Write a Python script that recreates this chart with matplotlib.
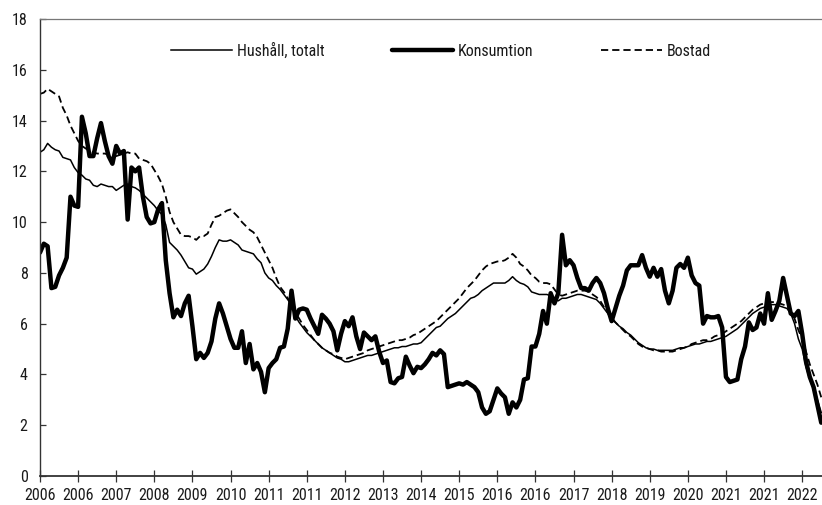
import matplotlib
matplotlib.use('Agg')
import matplotlib.pyplot as plt
import pandas as pd

plt.rcParams['font.family'] = ['Roboto Condensed', 'DejaVu Sans']

# Månadsdata jan 2006 - feb 2023, årlig procentuell förändring
manader = pd.date_range('2006-01-01', periods=206, freq='MS')

hushall_totalt = [
    12.75, 12.85, 13.1, 12.95, 12.85, 12.8, 12.55, 12.5, 12.45, 12.15, 11.95, 11.85,
    11.7, 11.65, 11.45, 11.4, 11.5, 11.45, 11.4, 11.4, 11.25, 11.35, 11.45, 11.5,
    11.4, 11.35, 11.25, 11.1, 10.95, 10.8, 10.65, 10.45, 10.3, 9.9, 9.2, 9.05,
    8.9, 8.7, 8.45, 8.2, 8.15, 7.95, 8.05, 8.15, 8.35, 8.65, 9.0, 9.3,
    9.25, 9.25, 9.3, 9.2, 9.1, 8.9, 8.85, 8.8, 8.75, 8.55, 8.4, 8.0,
    7.8, 7.7, 7.5, 7.35, 7.15, 6.95, 6.75, 6.3, 6.05, 5.85, 5.65, 5.5,
    5.35, 5.2, 5.05, 4.95, 4.85, 4.75, 4.65, 4.6, 4.5, 4.5, 4.55, 4.6,
    4.65, 4.7, 4.75, 4.75, 4.8, 4.85, 4.9, 4.95, 5.0, 5.05, 5.05, 5.1,
    5.1, 5.15, 5.2, 5.2, 5.25, 5.4, 5.55, 5.7, 5.85, 5.9, 6.05, 6.2,
    6.3, 6.4, 6.55, 6.7, 6.85, 7.0, 7.05, 7.15, 7.3, 7.4, 7.5, 7.6,
    7.6, 7.6, 7.6, 7.7, 7.85, 7.7, 7.6, 7.55, 7.45, 7.25, 7.2, 7.15,
    7.15, 7.15, 7.1, 6.95, 6.9, 7.0, 7.0, 7.05, 7.1, 7.15, 7.15, 7.1,
    7.05, 7.0, 6.95, 6.8, 6.6, 6.4, 6.15, 6.05, 5.9, 5.8, 5.65, 5.55,
    5.4, 5.25, 5.15, 5.05, 5.0, 5.0, 4.95, 4.95, 4.95, 4.95, 4.95, 5.0,
    5.05, 5.05, 5.1, 5.15, 5.2, 5.2, 5.25, 5.3, 5.3, 5.35, 5.4, 5.45,
    5.5, 5.6, 5.7, 5.8, 5.95, 6.1, 6.25, 6.4, 6.5, 6.6, 6.65, 6.7,
    6.75, 6.75, 6.7, 6.65, 6.6, 6.4, 6.0, 5.4, 5.0, 4.3, 3.8, 3.4,
    3.0, 2.5,
]

konsumtion = [
    8.8, 9.15, 9.05, 7.4, 7.45, 7.9, 8.2, 8.6, 11.0, 10.65, 10.6, 14.15,
    13.5, 12.6, 12.6, 13.3, 13.9, 13.2, 12.6, 12.3, 13.0, 12.7, 12.8, 10.1,
    12.15, 12.0, 12.15, 11.0, 10.2, 9.95, 10.0, 10.5, 10.75, 8.5, 7.2, 6.25,
    6.55, 6.3, 6.8, 7.1, 5.9, 4.6, 4.85, 4.65, 4.85, 5.3, 6.2, 6.8,
    6.4, 5.9, 5.4, 5.05, 5.05, 5.7, 4.45, 5.2, 4.2, 4.45, 4.1, 3.3,
    4.25, 4.45, 4.6, 5.05, 5.1, 5.8, 7.3, 6.2, 6.55, 6.6, 6.55, 6.2,
    5.9, 5.6, 6.35, 6.2, 6.0, 5.7, 4.95, 5.6, 6.1, 5.9, 6.25, 5.5,
    5.0, 5.65, 5.5, 5.35, 5.5, 4.9, 4.45, 4.55, 3.7, 3.65, 3.85, 3.9,
    4.7, 4.35, 4.05, 4.3, 4.25, 4.4, 4.6, 4.85, 4.75, 4.95, 4.8, 3.5,
    3.55, 3.6, 3.65, 3.6, 3.7, 3.6, 3.5, 3.3, 2.7, 2.45, 2.55, 3.0,
    3.45, 3.25, 3.1, 2.45, 2.9, 2.7, 3.0, 3.8, 3.85, 5.1, 5.1, 5.6,
    6.5, 6.0, 7.2, 6.8, 7.2, 9.5, 8.3, 8.5, 8.3, 7.8, 7.4, 7.4,
    7.3, 7.6, 7.8, 7.6, 7.2, 6.6, 6.1, 6.6, 7.1, 7.5, 8.1, 8.3,
    8.3, 8.3, 8.7, 8.2, 7.85, 8.2, 7.85, 8.15, 7.3, 6.8, 7.3, 8.2,
    8.35, 8.2, 8.6, 7.9, 7.6, 7.5, 6.0, 6.3, 6.25, 6.25, 6.3, 5.85,
    3.9, 3.7, 3.75, 3.8, 4.6, 5.1, 6.05, 5.75, 5.85, 6.4, 6.0, 7.2,
    6.15, 6.5, 6.9, 7.8, 7.1, 6.4, 6.3, 6.5, 5.6, 4.5, 3.9, 3.5,
    2.8, 2.1,
]

bostad = [
    15.05, 15.1, 15.25, 15.15, 15.05, 14.95, 14.5, 14.2, 13.8, 13.5, 13.2, 13.0,
    12.9, 12.8, 12.75, 12.7, 12.7, 12.7, 12.65, 12.55, 12.6, 12.65, 12.7, 12.75,
    12.7, 12.7, 12.5, 12.45, 12.4, 12.3, 12.05, 11.8, 11.5, 11.0, 10.4, 10.0,
    9.75, 9.5, 9.45, 9.45, 9.4, 9.3, 9.45, 9.45, 9.55, 9.9, 10.2, 10.25,
    10.35, 10.45, 10.5, 10.35, 10.2, 10.0, 9.85, 9.7, 9.6, 9.4, 9.1, 8.8,
    8.5, 8.2, 7.8, 7.45, 7.25, 7.0, 6.75, 6.45, 6.2, 5.95, 5.75, 5.55,
    5.35, 5.2, 5.05, 4.95, 4.85, 4.8, 4.7, 4.65, 4.6, 4.65, 4.7, 4.75,
    4.8, 4.85, 4.95, 5.0, 5.05, 5.1, 5.15, 5.2, 5.25, 5.3, 5.35, 5.35,
    5.4, 5.45, 5.55, 5.6, 5.7, 5.8, 5.9, 6.0, 6.1, 6.25, 6.4, 6.55,
    6.7, 6.85, 7.0, 7.2, 7.4, 7.55, 7.7, 7.9, 8.1, 8.25, 8.35, 8.4,
    8.45, 8.45, 8.5, 8.6, 8.75, 8.6, 8.35, 8.25, 8.1, 7.9, 7.8, 7.65,
    7.6, 7.6, 7.55, 7.35, 7.15, 7.1, 7.15, 7.2, 7.25, 7.3, 7.3, 7.3,
    7.25, 7.15, 7.05, 6.9, 6.65, 6.45, 6.25, 6.05, 5.9, 5.75, 5.6, 5.5,
    5.35, 5.2, 5.1, 5.05, 5.0, 4.95, 4.95, 4.9, 4.9, 4.9, 4.9, 4.95,
    5.0, 5.05, 5.1, 5.2, 5.25, 5.3, 5.35, 5.35, 5.4, 5.5, 5.55, 5.6,
    5.7, 5.8, 5.9, 6.0, 6.1, 6.25, 6.4, 6.55, 6.65, 6.75, 6.8, 6.85,
    6.85, 6.85, 6.8, 6.75, 6.7, 6.5, 6.2, 5.75, 5.4, 4.9, 4.4, 4.0,
    3.6, 3.1,
]

# Kategoriaxel: etikett var tionde månad
tick_pos = list(range(0, 201, 10))
tick_labels = [str(manader[i].year) for i in tick_pos]

fig = plt.figure(figsize=(8.22, 5.05), dpi=100)
ax = fig.add_axes([40 / 822, 1 - 476 / 505, 782 / 822, 457 / 505])

x = range(len(manader))
ax.plot(x, hushall_totalt, color='black', lw=1.1, label='Hushåll, totalt')
ax.plot(x, konsumtion, color='black', lw=3.2, label='Konsumtion',
        solid_joinstyle='round', solid_capstyle='round')
ax.plot(x, bostad, color='black', lw=1.3, ls=(0, (4, 2.2)), label='Bostad')

ax.set_xlim(0, 205.2)
ax.set_ylim(0, 18)
ax.set_yticks(range(0, 19, 2))
ax.set_xticks(tick_pos)
ax.set_xticklabels(tick_labels)

ax.tick_params(axis='y', direction='in', length=4, width=0.9, color='#333333',
               labelsize=11.5, labelcolor='#1a1a1a', pad=9)
ax.tick_params(axis='x', direction='inout', length=8, width=0.9, color='#333333',
               labelsize=11.5, labelcolor='#1a1a1a', pad=5)

ax.spines['right'].set_visible(False)
ax.spines['top'].set_color('#777777')
ax.spines['top'].set_linewidth(0.9)
ax.spines['left'].set_color('#333333')
ax.spines['left'].set_linewidth(1.0)
ax.spines['bottom'].set_color('#333333')
ax.spines['bottom'].set_linewidth(1.3)

leg = ax.legend(loc='center', bbox_to_anchor=(0.513, 0.93), ncol=3, frameon=False,
                fontsize=11.5, handlelength=3.8, columnspacing=4.2, handletextpad=0.35)
for t in leg.get_texts():
    t.set_color('#1a1a1a')

fig.savefig('out.png', dpi=100)
